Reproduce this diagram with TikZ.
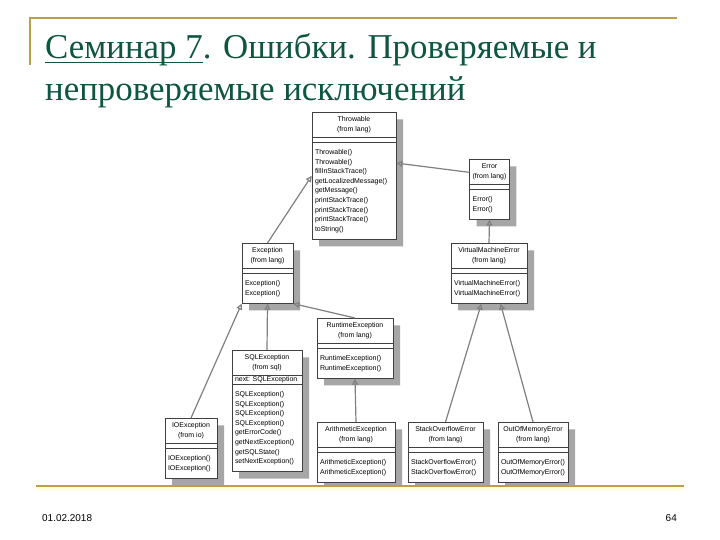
\documentclass[tikz,border=0pt]{standalone}
\usepackage{fontspec}
\setmainfont{Liberation Serif}
\setsansfont{Liberation Sans}
\usetikzlibrary{shapes.multipart, shadows, positioning, arrows.meta, calc}

\definecolor{titlegreen}{RGB}{14,86,64}
\definecolor{rulegold}{RGB}{189,160,70}
\newcommand{\cname}[2]{\begin{tabular}{@{}c@{}}#1\\(from #2)\end{tabular}}
\newcommand{\ops}[1]{\begin{tabular}{@{}l@{}}\noalign{\vskip2.5bp}#1\\\noalign{\vskip2.5bp}\end{tabular}}
\newcommand{\noattr}{\rule{0.1bp}{0pt}}
\newcommand{\ulined}[1]{\setbox0\hbox{#1}\rlap{\rule[-5bp]{\wd0}{1.6bp}}\box0}

\begin{document}
\begin{tikzpicture}[x=1bp, y=-1bp,
    cls/.style={draw=black!75, line width=0.6bp, fill=white, anchor=north,
                rectangle split, rectangle split parts=3,
                rectangle split part align={center,left,left},
                inner xsep=3bp, inner ysep=2.5bp,
                font=\sffamily\fontsize{7}{9.6}\selectfont,
                drop shadow={shadow xshift=7bp, shadow yshift=-7bp,
                             fill=black!35, opacity=1}},
    gen/.style={draw=black!50, line width=1.2bp,
                -{Triangle[open, length=6bp, width=6bp]}}
]
    \fill[white] (0,0) rectangle (720,540);
    \useasboundingbox (0,0) rectangle (720,540);

    % --- Slide frame ---
    \draw[rulegold, line width=2bp] (30,65) -- (30,18) -- (677,18);
    \node[anchor=north west, align=left, text=titlegreen, inner sep=0pt,
          font=\fontsize{35}{42}\selectfont] (title) at (45,33)
        {\ulined{Семинар 7}. Ошибки. Проверяемые и\\непроверяемые исключений};

    % --- Top of the hierarchy ---
    \node[cls, minimum width=84bp] (throwable) at (354,112)
        {\cname{Throwable}{lang}
         \nodepart{two}\noattr
         \nodepart{three}\ops{Throwable()\\Throwable()\\fillInStackTrace()\\
            getLocalizedMessage()\\getMessage()\\printStackTrace()\\
            printStackTrace()\\printStackTrace()\\toString()}};
    \node[cls, minimum width=35bp] (error) at (489.5,159)
        {\cname{Error}{lang}
         \nodepart{two}\noattr
         \nodepart{three}\ops{Error()\\Error()}};

    % --- Second level ---
    \node[cls, minimum width=51bp] (exception) at (267.5,243)
        {\cname{Exception}{lang}
         \nodepart{two}\noattr
         \nodepart{three}\ops{Exception()\\Exception()}};
    \node[cls, minimum width=76bp] (vmerror) at (489,243)
        {\cname{VirtualMachineError}{lang}
         \nodepart{two}\noattr
         \nodepart{three}\ops{VirtualMachineError()\\VirtualMachineError()}};

    % --- Third level ---
    \node[cls, minimum width=76bp] (runtime) at (355,318)
        {\cname{RuntimeException}{lang}
         \nodepart{two}\noattr
         \nodepart{three}\ops{RuntimeException()\\RuntimeException()}};
    \node[cls, minimum width=70bp] (sqlexc) at (267,350)
        {\cname{SQLException}{sql}
         \nodepart{two}\raisebox{-2bp}[2bp][2bp]{next: SQLException}
         \nodepart{three}\ops{SQLException()\\SQLException()\\SQLException()\\
            SQLException()\\getErrorCode()\\getNextException()\\
            getSQLState()\\setNextException()}};

    % --- Leaves ---
    \node[cls, minimum width=52bp] (ioexc) at (191,418)
        {\cname{IOException}{io}
         \nodepart{two}\noattr
         \nodepart{three}\ops{IOException()\\IOException()}};
    \node[cls, minimum width=78bp] (arith) at (356,422)
        {\cname{ArithmeticException}{lang}
         \nodepart{two}\noattr
         \nodepart{three}\ops{ArithmeticException()\\ArithmeticException()}};
    \node[cls, minimum width=75bp] (stackover) at (445.5,422)
        {\cname{StackOverflowError}{lang}
         \nodepart{two}\noattr
         \nodepart{three}\ops{StackOverflowError()\\StackOverflowError()}};
    \node[cls, minimum width=70bp] (outofmem) at (533,422)
        {\cname{OutOfMemoryError}{lang}
         \nodepart{two}\noattr
         \nodepart{three}\ops{OutOfMemoryError()\\OutOfMemoryError()}};

    % --- Generalisations ---
    \draw[gen] (exception.north) -- (throwable.west);
    \draw[gen] ($(error.north west)!0.22!(error.south west)$)
        -- ($(throwable.north east)!0.4!(throwable.south east)$);
    \draw[gen] (vmerror.north) -- (error.south);
    \draw[gen] (ioexc.north)   -- (exception.south west);
    \draw[gen] (sqlexc.north)  -- (exception.south);
    \draw[gen] (runtime.north) -- (exception.south east);
    \draw[gen] (arith.north)   -- (runtime.south);
    \draw[gen] (stackover.north)
        -- ($(vmerror.south west)!0.4!(vmerror.south east)$);
    \draw[gen] (outofmem.north)
        -- ($(vmerror.south west)!0.65!(vmerror.south east)$);

    % --- Footer ---
    \draw[yellow!12, line width=4bp] (36,489) -- (684,489);
    \draw[rulegold, line width=2bp] (36,486) -- (684,486);
    \node[anchor=west, font=\sffamily\fontsize{10}{12}\selectfont, inner sep=0pt]
        (date) at (42,518) {01.02.2018};
    \node[anchor=east, font=\sffamily\fontsize{10}{12}\selectfont, inner sep=0pt]
        (page) at (677,518) {64};
\end{tikzpicture}
\end{document}
